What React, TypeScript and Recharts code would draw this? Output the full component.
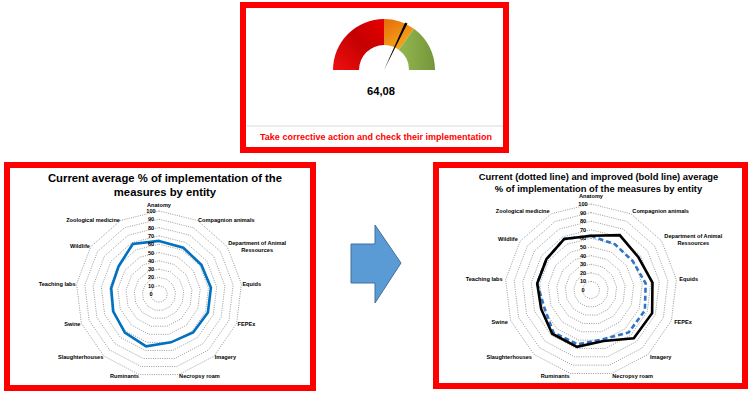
import React from "react";
import {
  PieChart,
  Pie,
  Cell,
  RadarChart,
  Radar,
  PolarGrid,
  PolarAngleAxis,
  PolarRadiusAxis,
} from "recharts";

const FONT = '"Liberation Sans", Arial, sans-serif';

// entities around the radar, clockwise from the top
const entities = [
  "Anatomy",
  "Compagnion animals",
  "Department of Animal Ressources",
  "Equids",
  "FEPEx",
  "Imagery",
  "Necropsy roam",
  "Ruminants",
  "Slaughterhouses",
  "Swine",
  "Teaching labs",
  "Wildlife",
  "Zoological medicine",
];
const currentLeft = [64, 63, 62, 63, 63, 62, 60, 65, 62, 59, 58, 59, 68];
const currentRight = [63, 60, 59, 64, 67, 66, 59, 65, 66, 58, 63, 63, 67];
const improved = [63, 72, 67, 72, 76, 75, 61, 68, 68, 62, 63, 63, 67];
const radiusTicks = [0, 10, 20, 30, 40, 50, 60, 70, 80, 90, 100];

const gaugeBands = [50, 20, 30]; // red, orange, green
const gaugeValue = 64.08;
const gaugeLabel = "64,08";
const needleWidth = 1.6;

const leftData = entities.map((e, i) => ({ entity: e, current: currentLeft[i] }));
const rightData = entities.map((e, i) => ({
  entity: e,
  current: currentRight[i],
  improved: improved[i],
}));
const bandData = gaugeBands.map((v, i) => ({ name: ["low", "mid", "high"][i], value: v }));
const needleData = [
  { name: "before", value: gaugeValue - needleWidth / 2 },
  { name: "needle", value: needleWidth },
  { name: "after", value: 100 - gaugeValue - needleWidth / 2 },
];

let ctx: CanvasRenderingContext2D | null = null;
function textWidth(s: string, font: string) {
  if (!ctx && typeof document !== "undefined") ctx = document.createElement("canvas").getContext("2d");
  if (!ctx) return s.length * 3;
  ctx.font = font;
  return ctx.measureText(s).width;
}

function splitLabel(s: string) {
  if (s.length <= 24) return [s];
  const cut = s.lastIndexOf(" ", 20);
  return [s.slice(0, cut), s.slice(cut + 1)];
}

function makeAngleTick(cy: number, fs: number) {
  return (props: any) => {
    const { x, y, textAnchor, payload } = props;
    const label = String(payload.value);
    let ty = y;
    if (textAnchor === "middle") ty = y < cy ? y - 5.5 : y + 4;
    const lines = splitLabel(label);
    const style = { fontFamily: FONT, fontSize: fs, fontWeight: 700 };
    if (lines.length === 1) {
      return (
        <text x={x} y={ty} textAnchor={textAnchor} dominantBaseline="central" fill="#000" style={style}>
          {label}
        </text>
      );
    }
    const w = textWidth(lines[0], `bold ${fs}px ${FONT}`);
    const mx = textAnchor === "start" ? x + w / 2 : textAnchor === "end" ? x - w / 2 : x;
    return (
      <text textAnchor="middle" dominantBaseline="central" fill="#000" style={style}>
        {lines.map((l, i) => (
          <tspan key={i} x={mx} y={ty + (i - (lines.length - 1) / 2) * 7}>
            {l}
          </tspan>
        ))}
      </text>
    );
  };
}

const RadiusTick = (props: any) => {
  const { x, y, payload } = props;
  return (
    <text
      x={x - 8}
      y={y}
      textAnchor="middle"
      dominantBaseline="central"
      fill="#000"
      style={{ fontFamily: FONT, fontSize: 5.6, fontWeight: 700 }}
    >
      {payload.value}
    </text>
  );
};

function Grid() {
  return (
    <PolarGrid
      gridType="polygon"
      radialLines={false}
      stroke="#808080"
      strokeWidth={0.8}
      strokeDasharray="1 1.3"
    />
  );
}

export default function App() {
  return (
    <div style={{ position: "absolute", left: 0, top: 0, width: 750, height: 394, background: "#fff" }}>
      {/* gauge */}
      <div style={{ position: "absolute", left: 314, top: 0 }}>
        <PieChart width={140} height={80} margin={{ top: 0, right: 0, bottom: 0, left: 0 }}>
          <defs>
            <linearGradient id="gRed" x1="0" y1="1" x2="1" y2="0">
              <stop offset="0%" stopColor="#f01010" />
              <stop offset="55%" stopColor="#c40000" />
              <stop offset="100%" stopColor="#e80000" />
            </linearGradient>
            <linearGradient id="gOrange" x1="0" y1="0" x2="0.6" y2="1">
              <stop offset="0%" stopColor="#e46c0a" />
              <stop offset="100%" stopColor="#f8a81c" />
            </linearGradient>
            <linearGradient id="gGreen" x1="0" y1="0" x2="1" y2="0">
              <stop offset="0%" stopColor="#93b84f" />
              <stop offset="100%" stopColor="#76953b" />
            </linearGradient>
          </defs>
          <Pie
            data={bandData}
            dataKey="value"
            cx={70}
            cy={70}
            startAngle={180}
            endAngle={0}
            innerRadius={25}
            outerRadius={51}
            stroke="none"
            isAnimationActive={false}
          >
            <Cell fill="url(#gRed)" />
            <Cell fill="url(#gOrange)" />
            <Cell fill="url(#gGreen)" />
          </Pie>
          <Pie
            data={needleData}
            dataKey="value"
            cx={70}
            cy={70}
            startAngle={180}
            endAngle={0}
            innerRadius={0}
            outerRadius={52}
            stroke="none"
            isAnimationActive={false}
          >
            <Cell fill="transparent" />
            <Cell fill="#000" />
            <Cell fill="transparent" />
          </Pie>
        </PieChart>
      </div>

      {/* current radar */}
      <div style={{ position: "absolute", left: 4, top: 162 }}>
        <RadarChart width={312} height={229} cx={155} cy={132} outerRadius={83} data={leftData} margin={{ top: 0, right: 0, bottom: 0, left: 0 }}>
          <Grid />
          <PolarAngleAxis dataKey="entity" tickLine={false} axisLine={false} tickSize={1} tick={makeAngleTick(132, 5.6)} />
          <PolarRadiusAxis angle={90} type="number" domain={[0, 100]} ticks={radiusTicks as any} axisLine={false} tick={RadiusTick} />
          <Radar dataKey="current" stroke="#0070c0" strokeWidth={2.6} fill="none" dot={false} isAnimationActive={false} />
        </RadarChart>
      </div>

      {/* current vs improved radar */}
      <div style={{ position: "absolute", left: 433, top: 162 }}>
        <RadarChart width={315} height={227} cx={158} cy={128} outerRadius={86} data={rightData} margin={{ top: 0, right: 0, bottom: 0, left: 0 }}>
          <Grid />
          <PolarAngleAxis dataKey="entity" tickLine={false} axisLine={false} tickSize={3} tick={makeAngleTick(128, 5.6)} />
          <PolarRadiusAxis angle={90} type="number" domain={[0, 100]} ticks={radiusTicks as any} axisLine={false} tick={RadiusTick} />
          <Radar dataKey="current" stroke="#2e75c6" strokeWidth={2.6} strokeDasharray="5 3" fill="none" dot={false} isAnimationActive={false} />
          <Radar dataKey="improved" stroke="#000" strokeWidth={2.6} fill="none" dot={false} isAnimationActive={false} />
        </RadarChart>
      </div>

      {/* frames, titles, arrow */}
      <svg width={750} height={394} style={{ position: "absolute", left: 0, top: 0, pointerEvents: "none" }}>
        <rect x={243} y={5} width={263} height={145} fill="none" stroke="#ff0000" strokeWidth={6} />
        <rect x={7} y={165} width={306} height={223} fill="none" stroke="#ff0000" strokeWidth={6} />
        <rect x={436} y={165} width={309} height={221} fill="none" stroke="#ff0000" strokeWidth={6} />
        <line x1={247} x2={503} y1={126} y2={126} stroke="#d9d9d9" strokeWidth={1} />
        <text x={381} y={91} textAnchor="middle" dominantBaseline="central" style={{ fontFamily: FONT, fontSize: 11.2, fontWeight: 700 }}>
          {gaugeLabel}
        </text>
        <text x={376} y={137} textAnchor="middle" dominantBaseline="central" fill="#ff0000" style={{ fontFamily: FONT, fontSize: 9, fontWeight: 700 }}>
          Take corrective action and check their implementation
        </text>
        <g style={{ fontFamily: FONT, fontWeight: 700 }} textAnchor="middle" dominantBaseline="central">
          <text x={165} y={178} style={{ fontSize: 11.3 }}>Current average % of implementation of the</text>
          <text x={165} y={192} style={{ fontSize: 11.3 }}>measures by entity</text>
          <text x={598.5} y={176} style={{ fontSize: 9.4 }}>Current (dotted line) and improved (bold line) average</text>
          <text x={598.5} y={188} style={{ fontSize: 9.4 }}>% of implementation of the measures by entity</text>
        </g>
        <polygon
          points="351,244 375,244 375,225 401,263 375,303 375,283 351,283"
          fill="#5b9bd5"
          stroke="#41719c"
          strokeWidth={1}
        />
      </svg>
    </div>
  );
}
